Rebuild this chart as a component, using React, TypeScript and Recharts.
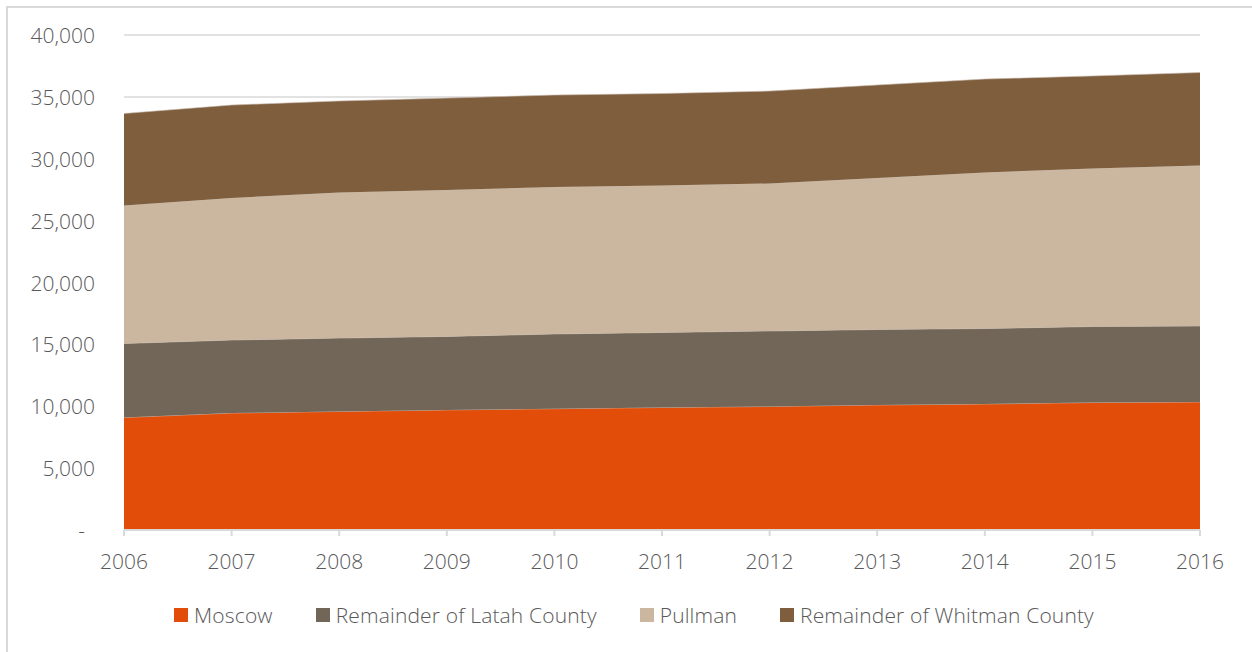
import { Area, AreaChart, CartesianGrid, Legend, XAxis, YAxis } from "recharts";

const years = ["2006", "2007", "2008", "2009", "2010", "2011", "2012", "2013", "2014", "2015", "2016"];
const moscow = [9090, 9450, 9580, 9700, 9800, 9900, 9980, 10100, 10180, 10300, 10340];
const latah = [5980, 5900, 5930, 5940, 6040, 6060, 6100, 6100, 6100, 6140, 6140];
const pullman = [11150, 11480, 11760, 11830, 11880, 11880, 11920, 12240, 12610, 12770, 12970];
const whitman = [7440, 7510, 7400, 7430, 7430, 7430, 7470, 7520, 7550, 7480, 7520];
const yTicks = [0, 5000, 10000, 15000, 20000, 25000, 30000, 35000, 40000];

const series = [
  { key: "moscow", name: "Moscow", color: "#E24E0A" },
  { key: "latah", name: "Remainder of Latah County", color: "#726659" },
  { key: "pullman", name: "Pullman", color: "#CBB79F" },
  { key: "whitman", name: "Remainder of Whitman County", color: "#7F5E3D" },
];

const data = years.map((year, i) => ({
  year,
  moscow: moscow[i],
  latah: latah[i],
  pullman: pullman[i],
  whitman: whitman[i],
}));

const FONT = "'Open Sans', 'Noto Sans', sans-serif";
const TEXT = "#595959";

function YTick(props: any) {
  const { x, y, payload } = props;
  const zero = payload.value === 0;
  return (
    <text
      x={zero ? x - 10 : x}
      y={y}
      textAnchor="end"
      dominantBaseline="central"
      fill={TEXT}
      fontSize={21}
      fontWeight={300}
      fontFamily={FONT}
    >
      {zero ? "-" : payload.value.toLocaleString("en-US")}
    </text>
  );
}

function LegendContent() {
  return (
    <div
      style={{
        display: "flex",
        justifyContent: "center",
        alignItems: "center",
        height: 30,
        gap: 43,
        fontFamily: FONT,
        fontWeight: 300,
        fontSize: 21,
        letterSpacing: 0.15,
        color: TEXT,
      }}
    >
      {series.map((s) => (
        <div key={s.key} style={{ display: "flex", alignItems: "center", gap: 6 }}>
          <span style={{ width: 14, height: 14, background: s.color, display: "inline-block" }} />
          <span>{s.name}</span>
        </div>
      ))}
    </div>
  );
}

export default function App() {
  return (
    <div
      style={{
        position: "absolute",
        left: 0,
        top: 0,
        width: 1252,
        height: 652,
        overflow: "hidden",
        background: "#fff",
      }}
    >
      <div
        style={{
          position: "absolute",
          left: 6,
          top: 6,
          width: 1400,
          height: 800,
          borderTop: "2px solid #D9D9D9",
          borderLeft: "2px solid #D9D9D9",
        }}
      />
      <AreaChart
        width={1252}
        height={652}
        data={data}
        margin={{ top: 35, right: 52, left: 14, bottom: 22 }}
        style={{ position: "absolute", left: 0, top: 0 }}
      >
        <CartesianGrid vertical={false} stroke="#D9D9D9" strokeWidth={1.5} />
        <XAxis
          dataKey="year"
          height={70}
          stroke="#D9D9D9"
          strokeWidth={2}
          tickSize={6}
          tickMargin={18}
          tick={{ fill: TEXT, fontSize: 21, fontWeight: 300, fontFamily: FONT }}
        />
        <YAxis
          width={110}
          domain={[0, 40000]}
          ticks={yTicks}
          axisLine={false}
          tickLine={false}
          tickMargin={23}
          tick={<YTick />}
        />
        <Legend
          verticalAlign="bottom"
          content={<LegendContent />}
          wrapperStyle={{ left: 8, width: 1252, bottom: 22 }}
        />
        {series.map((s) => (
          <Area
            key={s.key}
            type="linear"
            dataKey={s.key}
            name={s.name}
            stackId="pop"
            fill={s.color}
            fillOpacity={1}
            stroke="#c9beb2"
            strokeWidth={0.6}
            isAnimationActive={false}
          />
        ))}
      </AreaChart>
    </div>
  );
}
